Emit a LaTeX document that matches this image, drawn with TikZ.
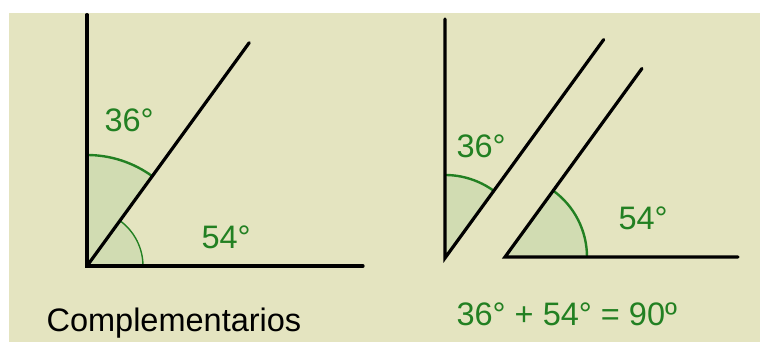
\documentclass[tikz,border=0pt]{standalone}
\usepackage{fontspec}
\setmainfont{Liberation Sans}
\definecolor{fondo}{RGB}{228,228,192}
\definecolor{verde}{RGB}{34,128,34}
\definecolor{relleno}{RGB}{209,220,178}

\begin{document}
\begin{tikzpicture}[x=1pt, y=1pt, line width=3.2pt,
    lado/.style={black, line cap=round},
    arco/.style={verde, line width=2.4pt},
    etiqueta/.style={text=verde, font=\fontsize{32.5}{36}\selectfont, anchor=base west, inner sep=0pt}]

\useasboundingbox (0,0) rectangle (760,342);
\fill[fondo] (9,0) rectangle (760,329);

% complementarios juntos
\coordinate (A) at (87,76);
\fill[relleno] (A) -- ++(90:111) arc[start angle=90, end angle=54, radius=111] -- cycle;
\fill[relleno] (A) -- ++(54:56) arc[start angle=54, end angle=0, radius=56] -- cycle;
\draw[arco] (A) ++(90:111) arc[start angle=90, end angle=54, radius=111];
\draw[arco, line width=1.4pt] (A) ++(54:56) arc[start angle=54, end angle=0, radius=56];
\draw[lado] (87,327.4) -- (A) -- (363,76);
\draw[lado] (A) -- ++(54:276);
\node[etiqueta] (a36) at (103,210) {36°};
\node[etiqueta] (a54) at (200,93) {54°};
\node[font=\fontsize{32.5}{36}\selectfont, anchor=base west, inner sep=0pt] (nombre) at (45,10) {Complementarios};

% separados
\coordinate (B) at (445,84);
\coordinate (C) at (505,85);
\fill[relleno] (B) -- ++(90:83) arc[start angle=90, end angle=54, radius=83] -- cycle;
\fill[relleno] (C) -- ++(54:82) arc[start angle=54, end angle=0, radius=82] -- cycle;
\draw[arco] (B) ++(90:83) arc[start angle=90, end angle=54, radius=83];
\draw[arco] (C) ++(54:82) arc[start angle=54, end angle=0, radius=82];
\draw[lado] (445,323) -- (B) -- ++(54:270);
\draw[lado] (738,85) -- (C) -- ++(54:233);
\node[etiqueta] (b36) at (455,184) {36°};
\node[etiqueta] (b54) at (617,112) {54°};
\node[etiqueta] (suma) at (455,16) {36° + 54° = 90º};

\end{tikzpicture}
\end{document}
